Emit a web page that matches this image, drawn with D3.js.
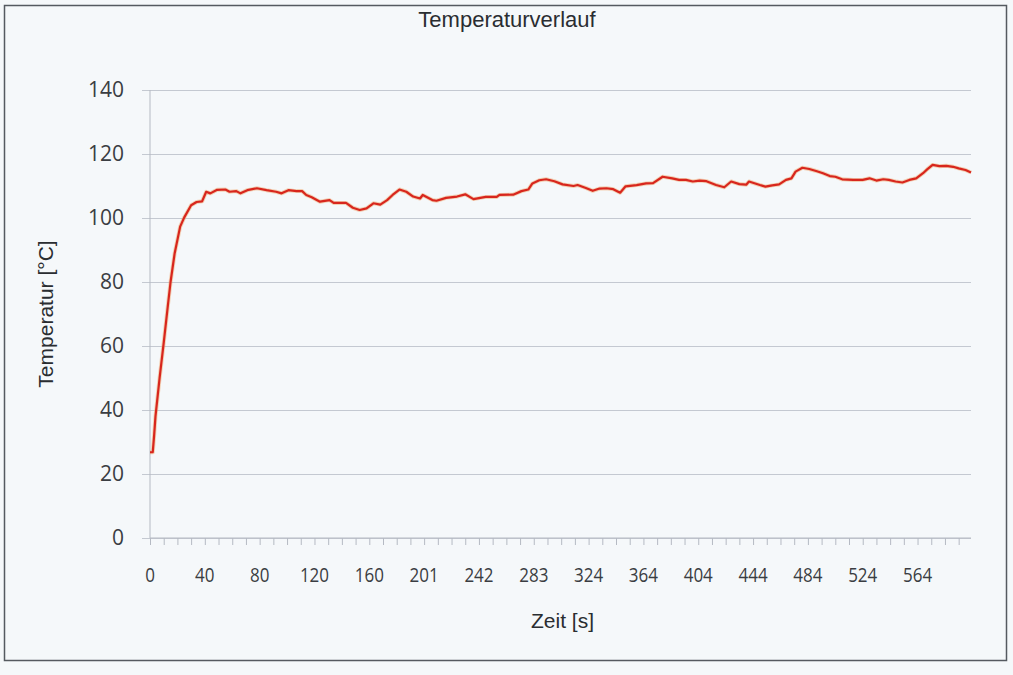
<!DOCTYPE html>
<html>
<head>
<meta charset="utf-8">
<script src="https://cdn.jsdelivr.net/npm/d3@7"></script>
<style>
  html, body { margin: 0; padding: 0; background: #ffffff; }
  svg { display: block; }
</style>
</head>
<body>
<div id="chart"></div>
<script>
// ---------- Daten ----------
// Messpunkt-Index (Kategorieachse, 600 Messungen) und Temperatur in °C
var sampleIdx = [0, 2, 3, 4, 7, 10, 13, 15, 18, 22, 25, 30, 34, 38, 41, 44, 49, 55, 58, 63, 66, 71, 78,
  85, 92, 96, 101, 107, 111, 114, 118, 124, 131, 134, 143, 148, 153, 158, 163, 168, 173, 177, 182,
  187, 192, 197, 199, 206, 209, 216, 224, 230, 236, 245, 253, 255, 265, 271, 276, 279, 284, 289,
  295, 301, 309, 312, 318, 323, 328, 333, 338, 343, 347, 355, 362, 367, 374, 381, 386, 391, 396,
  401, 406, 413, 419, 424, 430, 435, 437, 445, 449, 454, 459, 464, 468, 471, 476, 481, 486, 491,
  496, 500, 505, 513, 520, 525, 530, 535, 539, 544, 549, 554, 559, 564, 567, 571, 576, 581, 586,
  590, 595, 599];
var tempC = [26.8, 26.8, 32, 38, 50, 61, 72.5, 80, 89, 97.3, 100.2, 104, 105, 105.2, 108.2, 107.7, 108.8,
  108.9, 108.2, 108.4, 107.7, 108.7, 109.3, 108.7, 108.2, 107.7, 108.7, 108.4, 108.4, 107.2, 106.5,
  105.1, 105.6, 104.7, 104.7, 103.2, 102.5, 103, 104.6, 104.2, 105.6, 107.2, 108.9, 108.2, 106.7,
  106.1, 107.2, 105.6, 105.4, 106.3, 106.7, 107.4, 105.9, 106.6, 106.6, 107.2, 107.3, 108.4, 108.9,
  110.8, 111.8, 112.1, 111.5, 110.5, 110, 110.3, 109.4, 108.5, 109.2, 109.3, 109, 107.9, 109.9,
  110.3, 110.8, 110.9, 112.9, 112.4, 111.9, 111.9, 111.4, 111.7, 111.5, 110.3, 109.6, 111.4, 110.6,
  110.4, 111.4, 110.3, 109.8, 110.2, 110.5, 111.9, 112.4, 114.5, 115.7, 115.3, 114.7, 114, 113.1,
  112.9, 112.1, 111.9, 111.9, 112.4, 111.7, 112.1, 111.9, 111.4, 111.1, 111.9, 112.4, 114, 115.2,
  116.6, 116.2, 116.3, 116, 115.5, 115, 114.2];
// Achsenbeschriftung der Zeit (jede 40. Messung)
var labelIdx = [0, 40, 80, 120, 160, 200, 240, 280, 320, 360, 400, 440, 480, 520, 560];
var labelZeit = ["0", "40", "80", "120", "160", "201", "242", "283", "324", "364", "404", "444", "484", "524", "564"];
var yTicks = [0, 20, 40, 60, 80, 100, 120, 140];
var nSamples = 600;

var W = 1013, H = 675;
var margin = { top: 90, right: 42, bottom: 137, left: 150 },
    width = W - margin.left - margin.right,
    height = H - margin.top - margin.bottom;

var x = d3.scaleLinear().domain([0, nSamples - 1]).range([0, width]);
var y = d3.scaleLinear().domain([0, 140]).range([height, 0]);

var svg = d3.select("#chart").append("svg")
    .attr("width", W)
    .attr("height", H);

svg.append("rect")
    .attr("x", 0).attr("y", 0).attr("width", W).attr("height", H)
    .attr("fill", "#f5f8fa");
// Rahmen
svg.append("rect")
    .attr("x", 4.5).attr("y", 5.5).attr("width", 1002).attr("height", 655)
    .attr("fill", "none")
    .attr("stroke", "#555a60")
    .attr("stroke-width", 1.5);

svg.append("text")
    .attr("x", 507).attr("y", 27)
    .attr("text-anchor", "middle")
    .style("font-family", "'Liberation Sans', Arial, sans-serif")
    .style("font-size", "22px")
    .attr("fill", "#2a2d31")
    .text("Temperaturverlauf");

var g = svg.append("g")
    .attr("transform", "translate(" + margin.left + "," + margin.top + ")");

// Gitternetz + y-Achse
var yAxis = d3.axisLeft(y).tickValues(yTicks).tickSize(-width - 8).tickFormat(d3.format("d"));
var gy = g.append("g").attr("transform", "translate(-8,0)").call(yAxis);
gy.select(".domain").remove();
gy.selectAll(".tick line")
    .attr("x1", 0)
    .attr("stroke", "#c4c9d1")
    .attr("stroke-width", 1);
gy.selectAll(".tick text")
    .attr("x", -18)
    .style("font-family", "'Open Sans', 'Noto Sans', sans-serif")
    .style("font-size", "21px")
    .attr("fill", "#3a3d42");

g.append("line")
    .attr("x1", 0).attr("x2", 0).attr("y1", 0).attr("y2", height)
    .attr("stroke", "#b5bac3").attr("stroke-width", 1);

// x-Achse (Kategorien)
var tickIdx = d3.range(0, nSamples, 10);
var xAxisTicks = d3.axisBottom(x).tickValues(tickIdx).tickSize(7).tickFormat("");
var gx = g.append("g").attr("transform", "translate(0," + height + ")").call(xAxisTicks);
gx.select(".domain").attr("stroke", "#b5bac3").attr("d", "M0,0H" + width);
gx.selectAll(".tick line").attr("stroke", "#b5bac3");

var gxl = g.append("g").attr("transform", "translate(0," + height + ")");
gxl.selectAll("text.xl")
    .data(labelIdx)
    .enter().append("text")
    .attr("class", "xl")
    .attr("transform", function (d) { return "translate(" + x(d) + ",44) scale(1,1.2)"; })
    .attr("text-anchor", "middle")
    .style("font-family", "'Open Sans', 'Noto Sans', sans-serif")
    .style("font-size", "17px")
    .attr("fill", "#3a3d42")
    .text(function (d, i) { return labelZeit[i]; });

// Achsentitel
svg.append("text")
    .attr("transform", "translate(53," + (margin.top + height / 2) + ") rotate(-90)")
    .attr("text-anchor", "middle")
    .style("font-family", "'Liberation Sans', Arial, sans-serif")
    .style("font-size", "21px")
    .attr("fill", "#2a2d31")
    .text("Temperatur [°C]");
svg.append("text")
    .attr("x", margin.left + width / 2 + 2).attr("y", 628)
    .attr("text-anchor", "middle")
    .style("font-family", "'Liberation Sans', Arial, sans-serif")
    .style("font-size", "21px")
    .attr("fill", "#2a2d31")
    .text("Zeit [s]");

// Temperaturkurve
var pts = sampleIdx.map(function (d, i) { return [d, tempC[i]]; });
var line = d3.line()
    .x(function (d) { return x(d[0]); })
    .y(function (d) { return y(d[1]); });
g.append("path")
    .datum(pts)
    .attr("d", line)
    .attr("fill", "none")
    .attr("stroke", "#f0a060")
    .attr("stroke-opacity", 0.45)
    .attr("stroke-width", 4)
    .attr("stroke-linejoin", "round");
g.append("path")
    .datum(pts)
    .attr("d", line)
    .attr("fill", "none")
    .attr("stroke", "#d8261d")
    .attr("stroke-width", 2.2)
    .attr("stroke-linejoin", "round");
</script>
</body>
</html>
